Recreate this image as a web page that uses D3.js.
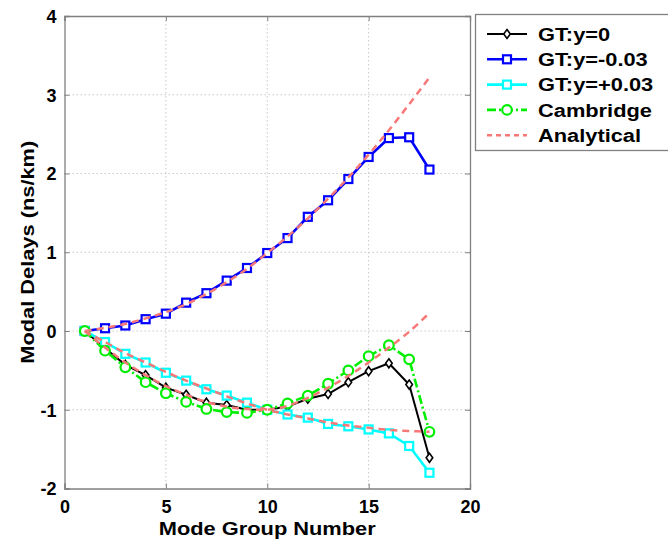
<!DOCTYPE html>
<html><head><meta charset="utf-8">
<script src="https://cdn.jsdelivr.net/npm/d3@7"></script>
<style>body{margin:0;background:#fff}svg{display:block}</style>
</head><body><svg id="c" width="668" height="541"></svg>
<script>
const modeGroups = [1,2,3,4,5,6,7,8,9,10,11,12,13,14,15,16,17,18];
const gtY0 = [0,-0.22,-0.43,-0.56,-0.72,-0.81,-0.91,-0.94,-1.00,-1.00,-0.96,-0.86,-0.80,-0.65,-0.51,-0.41,-0.68,-1.61];
const gtYm003 = [0,0.035,0.07,0.15,0.22,0.36,0.48,0.64,0.80,0.99,1.18,1.45,1.66,1.93,2.21,2.45,2.46,2.05];
const gtYp003 = [0,-0.14,-0.29,-0.40,-0.53,-0.63,-0.74,-0.82,-0.91,-1.00,-1.06,-1.10,-1.18,-1.21,-1.25,-1.30,-1.46,-1.80];
const cambridge = [0,-0.25,-0.46,-0.65,-0.79,-0.90,-0.99,-1.03,-1.04,-1.00,-0.92,-0.82,-0.67,-0.50,-0.32,-0.18,-0.36,-1.28];
const analyticalUpper = [0,0.04,0.09,0.16,0.24,0.34,0.47,0.62,0.79,0.99,1.20,1.43,1.68,1.95,2.24,2.55,2.88,3.22];
const analyticalMiddle = [0,-0.21,-0.40,-0.56,-0.70,-0.81,-0.90,-0.96,-0.99,-1.00,-0.95,-0.85,-0.72,-0.57,-0.40,-0.21,-0.01,0.23];
const analyticalLower = [0,-0.14,-0.28,-0.40,-0.52,-0.63,-0.73,-0.83,-0.92,-1.00,-1.06,-1.11,-1.16,-1.20,-1.23,-1.255,-1.27,-1.28];
const xTicks = [0,5,10,15,20];
const yTicks = [-2,-1,0,1,2,3,4];
const legendLabels = ["GT:y=0","GT:y=-0.03","GT:y=+0.03","Cambridge","Analytical"];

const svg = d3.select("#c");
const L=64.5, R=470, T=16, B=488.5;
const x = d3.scaleLinear().domain([0,20]).range([L,R]);
const y = d3.scaleLinear().domain([-2,4]).range([B,T]);
const font = "Arial, 'Liberation Sans', sans-serif";
const fmt = d => String(d); // plain hyphen-minus like the reference
const SX = 1.18;

// grid
const g = svg.append("g");
g.selectAll(".gx").data(xTicks.slice(1,-1)).enter().append("line")
  .attr("x1",d=>x(d)).attr("x2",d=>x(d)).attr("y1",T).attr("y2",B)
  .attr("stroke","#c8c8c8").attr("stroke-dasharray","1.5,2.5").attr("stroke-width",1);
g.selectAll(".gy").data(yTicks.slice(1,-1)).enter().append("line")
  .attr("y1",d=>y(d)).attr("y2",d=>y(d)).attr("x1",L).attr("x2",R)
  .attr("stroke","#c8c8c8").attr("stroke-dasharray","1.5,2.5").attr("stroke-width",1);

// axes
const ax = svg.append("g").attr("transform",`translate(0,${B})`)
  .call(d3.axisBottom(x).tickValues(xTicks).tickSize(-5).tickPadding(10).tickFormat(fmt));
const ay = svg.append("g").attr("transform",`translate(${L},0)`)
  .call(d3.axisLeft(y).tickValues(yTicks).tickSize(-5).tickPadding(8).tickFormat(fmt));
const axT = svg.append("g").attr("transform",`translate(0,${T})`)
  .call(d3.axisTop(x).tickValues(xTicks).tickSize(-5).tickFormat(""));
const ayR = svg.append("g").attr("transform",`translate(${R},0)`)
  .call(d3.axisRight(y).tickValues(yTicks).tickSize(-5).tickFormat(""));
[ax,ay,axT,ayR].forEach(a=>{
  a.selectAll("path").attr("stroke","#808080").attr("stroke-width",1.3);
  a.selectAll("line").attr("stroke","#808080");
  a.selectAll("text").attr("font-family",font).attr("font-weight","bold").attr("font-size",18).attr("fill","#000");
});
ay.selectAll("text").attr("dy","0.36em");
ax.selectAll("text").attr("y",24).attr("dy",0);

svg.append("text").attr("transform",`translate(${(L+R)/2},535) scale(${SX},1)`).attr("text-anchor","middle")
  .attr("font-family",font).attr("font-weight","bold").attr("font-size",18.5).text("Mode Group Number");
svg.append("text").attr("transform",`translate(34,${(T+B)/2}) rotate(-90) scale(${SX},1)`).attr("text-anchor","middle")
  .attr("font-family",font).attr("font-weight","bold").attr("font-size",18.5).text("Modal Delays (ns/km)");

const line = d3.line().x((d,i)=>x(modeGroups[i])).y(d=>y(d));
const smooth = d3.line().x((d,i)=>x(modeGroups[i])).y(d=>y(d)).curve(d3.curveCatmullRom);

const series = [
  {data:gtY0,color:"#000000",w:2,dash:null,marker:"diamond"},
  {data:gtYm003,color:"#0000ff",w:2.6,dash:null,marker:"square"},
  {data:gtYp003,color:"#00ffff",w:2.6,dash:null,marker:"square"},
  {data:cambridge,color:"#00ee00",w:2.6,dash:"9,3,2,3",marker:"circle"}
];
const analyticalStyle = {color:"#f87878",w:2.5,dash:"7,5"};

function drawMarker(sel,type,color){
  if(type==="square") return sel.append("rect").attr("x",-4).attr("y",-4).attr("width",8).attr("height",8)
    .attr("fill","#fff").attr("stroke",color).attr("stroke-width",2.2);
  if(type==="circle") return sel.append("circle").attr("r",4.8).attr("fill","#fff").attr("stroke",color).attr("stroke-width",2.2);
  return sel.append("path").attr("d","M0,-4.5L3.3,0L0,4.5L-3.3,0Z").attr("fill","#fff").attr("stroke",color).attr("stroke-width",1.6);
}

series.forEach(s=>{
  svg.append("path").datum(s.data).attr("d",line).attr("fill","none").attr("stroke",s.color)
    .attr("stroke-width",s.w).attr("stroke-dasharray",s.dash);
  s.data.forEach((v,i)=>{
    const m = svg.append("g").attr("transform",`translate(${x(modeGroups[i])},${y(v)})`);
    drawMarker(m,s.marker,s.color);
  });
});
[analyticalUpper,analyticalMiddle,analyticalLower].forEach(a=>{
  svg.append("path").datum(a).attr("d",smooth).attr("fill","none").attr("stroke",analyticalStyle.color)
    .attr("stroke-width",analyticalStyle.w).attr("stroke-dasharray",analyticalStyle.dash);
});

// legend
const lg = svg.append("g");
lg.append("rect").attr("x",475.5).attr("y",14.5).attr("width",200).attr("height",136)
  .attr("fill","#fff").attr("stroke","#808080").attr("stroke-width",1.3);
const legStyles = series.concat([{color:analyticalStyle.color,w:analyticalStyle.w,dash:"5,4",marker:null}]);
legendLabels.forEach((lab,i)=>{
  const yy = 34 + i*25.3;
  const s = legStyles[i];
  lg.append("line").attr("x1",487).attr("x2",527).attr("y1",yy).attr("y2",yy)
    .attr("stroke",s.color).attr("stroke-width",s.w).attr("stroke-dasharray",s.dash);
  if(s.marker){ const m = lg.append("g").attr("transform",`translate(507,${yy})`); drawMarker(m,s.marker,s.color); }
  lg.append("text").attr("transform",`translate(538,${yy+6.6}) scale(${SX},1)`).attr("font-family",font)
    .attr("font-weight","bold").attr("font-size",18.5).text(lab);
});
</script></body></html>
